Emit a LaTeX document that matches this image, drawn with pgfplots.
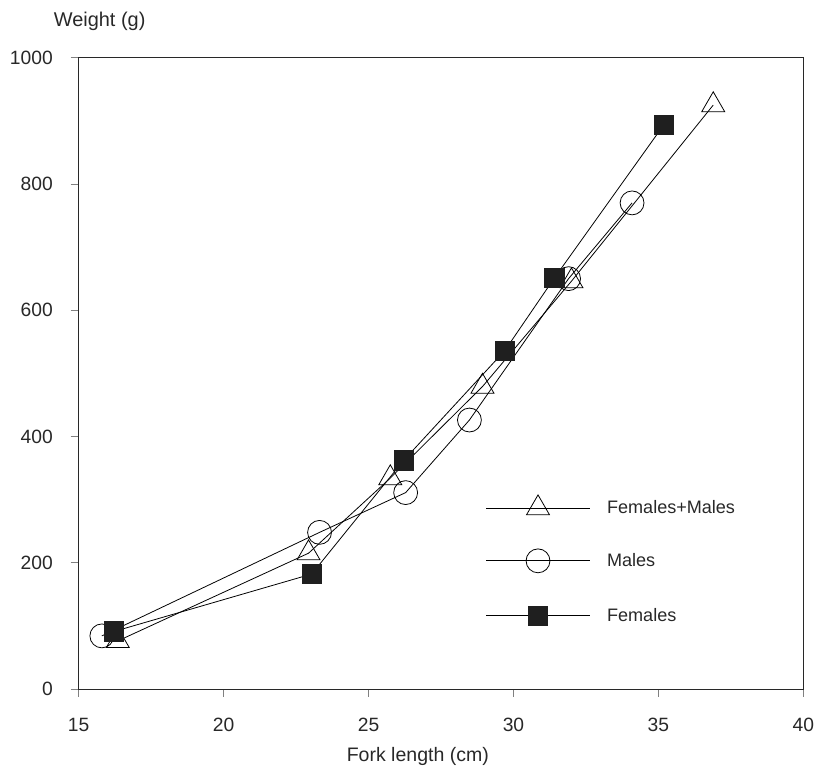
\documentclass[border=0pt]{standalone}
\usepackage{fontspec}
\setmainfont{Liberation Sans}
\usepackage{pgfplots}
\pgfplotsset{compat=1.18}
\usetikzlibrary{calc}
\definecolor{axisgray}{RGB}{40,40,40}

\pgfplotstableread{
x y
16.35 76
22.93 215
25.75 334
28.93 479
32.0 646
36.89 925
}\bothsexes
\pgfplotstableread{
x y
15.8 84
23.31 248
26.28 311
28.48 426
31.9 650
34.09 770
}\males
\pgfplotstableread{
x y
16.22 91
23.04 182
26.21 362
29.7 536
31.41 651
35.19 894
}\females

\begin{document}
\begin{tikzpicture}
\begin{axis}[
    scale only axis,
    width=546pt, height=475.5pt,
    xmin=15, xmax=40, ymin=0, ymax=1000,
    xtick={15,20,...,40},
    ytick={0,200,...,1000},
    xtick pos=bottom, ytick pos=left,
    tick align=outside,
    major tick length=6pt,
    axis line style={axisgray, line width=0.6pt},
    tick style={gray, line width=0.6pt},
    /pgf/number format/assume math mode=true,
    /pgf/number format/1000 sep={},
    tick label style={font=\fontsize{14.5pt}{17pt}\selectfont, text=axisgray},
    xticklabel style={anchor=center, yshift=-21pt},
    yticklabel style={anchor=east, xshift=-10pt},
    xlabel={Fork length (cm)},
    ylabel={Weight (g)},
    label style={font=\fontsize{14.7pt}{17pt}\selectfont, text=axisgray},
    xlabel style={at={(axis description cs:0.468,-0.107)}, anchor=center},
    ylabel style={at={(axis description cs:0.029,1.057)}, anchor=center, rotate=-90,
        font=\fontsize{15pt}{18pt}\selectfont},
    legend style={
        at={(rel axis cs:0.556,0.312)}, anchor=north west,
        draw=none, fill=none,
        font=\fontsize{13.6pt}{16.5pt}\selectfont,
        row sep=25pt,
        nodes={inner sep=0pt, text=axisgray},
        /tikz/every odd column/.append style={column sep=12.75pt},
    },
    legend cell align=left,
    legend image code/.code={
        \draw[#1, mark repeat=2, mark phase=2] plot coordinates {(0pt,0pt) (39pt,0pt) (78pt,0pt)};
    },
]
\addplot[black, line width=0.6pt, mark=triangle, mark size=10pt,
    mark options={solid, fill=none, line width=0.6pt}] table {\bothsexes};
\addplot[black, line width=0.6pt, mark=o, mark size=9pt,
    mark options={solid, fill=none, line width=0.6pt}] table {\males};
\addplot[black, line width=0.6pt, mark=square*, mark size=7.3pt,
    mark options={solid, fill=black!88, draw=black!88}] table {\females};
\legend{Females+Males, Males, Females}
\end{axis}
\pgfresetboundingbox
\path[use as bounding box] ($(current axis.south west)+(-59.25pt,-63.75pt)$) rectangle ($(current axis.north east)+(9.5pt,43.5pt)$);
\end{tikzpicture}
\end{document}
